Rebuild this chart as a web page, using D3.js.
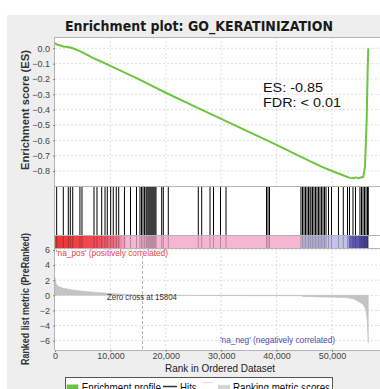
<!DOCTYPE html>
<html><head><meta charset="utf-8">
<script src="https://cdn.jsdelivr.net/npm/d3@7"></script>
<style>body{margin:0;background:#fff}svg{display:block}</style>
</head><body><svg id="c" width="380" height="389"></svg>
<script>
// ---------------- data ----------------
const chartTitle = "Enrichment plot: GO_KERATINIZATION";
const esRanks  = [0, 300, 800, 1500, 2400, 3200, 4500, 7000, 10000, 15000, 20000, 25000, 30000, 35000, 40000, 44500, 48000, 50000, 52000, 53200, 53800, 54300, 54800, 55200, 55650, 55960, 56260, 56440, 56550];
const esValues = [0.035, 0.025, 0.02, 0.012, 0.008, 0.0, -0.018, -0.065, -0.115, -0.20, -0.29, -0.375, -0.46, -0.545, -0.63, -0.71, -0.77, -0.80, -0.828, -0.845, -0.848, -0.842, -0.848, -0.843, -0.84, -0.77, -0.47, -0.14, 0.0];
const hitRanks = [300, 1500, 2400, 2760, 3200, 4500, 4870, 7040, 7580, 8430, 9030, 9440, 10050, 10520, 11060, 11500, 12540, 13630, 14710,
  15340, 15610, 15880, 16150, 16430, 16600, 16790, 16970, 17150, 17330, 17510, 17690, 17870, 18050, 18230, 19260, 19550, 20450,
  25870, 26480, 27980, 28610, 29870, 30870, 38180, 38450, 38720,
  44400, 44680, 44950, 45220, 45490, 45760, 46030, 46210, 46480, 46750, 47020, 47290, 47560, 47830, 48100, 48380, 48650, 48920,
  49370, 49910, 51170, 52040, 52800, 53160, 53790, 54240, 55050, 55330, 55600, 55870, 56140, 56410, 56550];
const metricRanks  = [0, 100, 300, 700, 1500, 3000, 5000, 7000, 9000, 11000, 13000, 15804, 25000, 35000, 44600, 44700, 48000, 52600, 54000, 55000, 55600, 56000, 56200, 56350, 56450, 56550];
const metricValues = [2.4, 1.8, 1.4, 1.15, 0.95, 0.75, 0.55, 0.42, 0.3, 0.2, 0.12, 0.0, -0.02, -0.04, -0.06, -0.15, -0.22, -0.3, -0.5, -0.9, -1.2, -1.7, -2.3, -3.3, -4.8, -6.3];
const bandRanks  = [0, 8000, 11500, 13000, 44400, 44450, 52800, 53300, 56550];
const bandColors = ["#ee3434", "#f04e5a", "#ee7c94", "#f4b6d0", "#f4b6d0", "#c9c7ec", "#c3c1e9", "#6a64ba", "#4a44a4"];
const xTicks = [0, 10000, 20000, 30000, 40000, 50000];
const esTicks = [0, -0.1, -0.2, -0.3, -0.4, -0.5, -0.6, -0.7, -0.8];
const metricTicks = [6, 4, 2, 0, -2, -4, -6];
const zeroCross = 15804;
const nGenes = 56550;
const esText = ["ES: -0.85", "FDR: < 0.01"];
const legendLabels = ["Enrichment profile", "Hits", "", "Ranking metric scores"];

// ---------------- layout ----------------
const svg = d3.select("#c");
const L = 55, R = 385;
const esTop = 37, esBot = 186, hitBot = 235, bandBot = 248, mBot = 350;
const green = "#6cc53f";

const x = d3.scaleLinear().domain([0, 59570]).range([L, R]);
const yES = d3.scaleLinear().domain([-0.898, 0.0737]).range([esBot, esTop]);
const yM = d3.scaleLinear().domain([-7.23, 6.26]).range([mBot, bandBot]);

svg.append("rect").attr("width", 380).attr("height", 389).attr("fill", "#fff");
svg.append("rect").attr("x", 7).attr("y", 15).attr("width", 380).attr("height", 380).attr("fill", "#eeeeee");

// title
svg.append("text").attr("x", 199).attr("y", 30.5).attr("text-anchor", "middle")
  .attr("font-family", "DejaVu Sans, sans-serif").attr("font-weight", "bold").attr("font-size", 14.5)
  .attr("fill", "#1a1a1a").attr("textLength", 268).attr("lengthAdjust", "spacingAndGlyphs").text(chartTitle);

// plot backgrounds
svg.append("rect").attr("x", L).attr("y", esTop).attr("width", R - L).attr("height", bandBot - esTop).attr("fill", "#fff");
svg.append("rect").attr("x", L).attr("y", bandBot).attr("width", R - L).attr("height", mBot - bandBot).attr("fill", "#fff");

const grid = "#d6d6d6";
// ES gridlines
svg.append("g").selectAll("line").data(esTicks).join("line")
  .attr("x1", L).attr("x2", R).attr("y1", d => yES(d)).attr("y2", d => yES(d))
  .attr("stroke", grid).attr("stroke-dasharray", "2,2").attr("stroke-width", 0.8);
svg.append("g").selectAll("line").data(xTicks.slice(1)).join("line")
  .attr("x1", d => x(d)).attr("x2", d => x(d)).attr("y1", esTop).attr("y2", esBot)
  .attr("stroke", grid).attr("stroke-dasharray", "2,2").attr("stroke-width", 0.8);
// metric gridlines
svg.append("g").selectAll("line").data(metricTicks).join("line")
  .attr("x1", L).attr("x2", R).attr("y1", d => yM(d)).attr("y2", d => yM(d))
  .attr("stroke", grid).attr("stroke-dasharray", "2,2").attr("stroke-width", 0.8);
svg.append("g").selectAll("line").data(xTicks.slice(1)).join("line")
  .attr("x1", d => x(d)).attr("x2", d => x(d)).attr("y1", bandBot).attr("y2", mBot)
  .attr("stroke", grid).attr("stroke-dasharray", "2,2").attr("stroke-width", 0.8);

// colour band
const defs = svg.append("defs");
const grad = defs.append("linearGradient").attr("id", "band").attr("gradientUnits", "userSpaceOnUse")
  .attr("x1", x(0)).attr("x2", x(nGenes)).attr("y1", 0).attr("y2", 0);
grad.selectAll("stop").data(bandRanks).join("stop")
  .attr("offset", d => d / nGenes).attr("stop-color", (d, i) => bandColors[i]);
svg.append("rect").attr("x", x(0)).attr("y", hitBot).attr("width", x(nGenes) - x(0)).attr("height", bandBot - hitBot)
  .attr("fill", "url(#band)");

// hits
svg.append("g").selectAll("line").data(hitRanks).join("line")
  .attr("x1", d => x(d)).attr("x2", d => x(d)).attr("y1", esBot + 1).attr("y2", hitBot)
  .attr("stroke", "#000").attr("stroke-width", 1);
svg.append("g").selectAll("line").data(hitRanks).join("line")
  .attr("x1", d => x(d)).attr("x2", d => x(d)).attr("y1", hitBot).attr("y2", bandBot)
  .attr("stroke", "#000").attr("stroke-opacity", 0.25).attr("stroke-width", 1);

// ranked metric area
const mData = metricRanks.map((r, i) => [r, metricValues[i]]);
svg.append("path").datum(mData)
  .attr("d", d3.area().x(d => x(d[0])).y0(yM(0)).y1(d => yM(d[1])))
  .attr("fill", "#c4c4c4").attr("stroke", "#bdbdbd").attr("stroke-width", 0.5);

// zero cross line
svg.append("line").attr("x1", x(zeroCross)).attr("x2", x(zeroCross)).attr("y1", bandBot + 8).attr("y2", mBot)
  .attr("stroke", "#9a9a9a").attr("stroke-dasharray", "3,2").attr("stroke-width", 0.8);

// ES curve
const esData = esRanks.map((r, i) => [r, esValues[i]]);
svg.append("path").datum(esData)
  .attr("d", d3.line().x(d => x(d[0])).y(d => yES(d[1])))
  .attr("fill", "none").attr("stroke", green).attr("stroke-width", 2).attr("stroke-linejoin", "round");

// borders
const border = "#b4b4b4";
[esTop, esBot, hitBot, bandBot, mBot].forEach(yy => {
  svg.append("line").attr("x1", L).attr("x2", R).attr("y1", yy + 0.5).attr("y2", yy + 0.5)
    .attr("stroke", border).attr("stroke-width", 1);
});
svg.append("line").attr("x1", L - 0.5).attr("x2", L - 0.5).attr("y1", esTop).attr("y2", mBot)
  .attr("stroke", border).attr("stroke-width", 1);

// axes
const tickFont = "Liberation Sans, Arial, sans-serif";
const gES = svg.append("g").attr("transform", `translate(${L},0)`)
  .call(d3.axisLeft(yES).tickValues(esTicks).tickFormat(d3.format(".1f")).tickSize(2).tickPadding(3));
const gM = svg.append("g").attr("transform", `translate(${L},0)`)
  .call(d3.axisLeft(yM).tickValues(metricTicks).tickFormat(d3.format("d")).tickSize(2).tickPadding(3));
const gX = svg.append("g").attr("transform", `translate(0,${mBot})`)
  .call(d3.axisBottom(x).tickValues(xTicks).tickFormat(d3.format(",")).tickSize(2).tickPadding(1));
[gES, gM, gX].forEach(g => {
  g.select(".domain").remove();
  g.selectAll(".tick line").attr("stroke", "#888");
  g.selectAll(".tick text").attr("font-family", tickFont).attr("font-size", 9).attr("fill", "#444");
});
gES.selectAll(".tick text").text(d => d === 0 ? "0.0" : d3.format(".1f")(d));

// axis titles
svg.append("text").attr("transform", "translate(29,110) rotate(-90)").attr("text-anchor", "middle")
  .attr("font-family", tickFont).attr("font-weight", "bold").attr("font-size", 11).attr("fill", "#333")
  .attr("textLength", 120).attr("lengthAdjust", "spacingAndGlyphs").text("Enrichment score (ES)");
svg.append("text").attr("transform", "translate(29,299) rotate(-90)").attr("text-anchor", "middle")
  .attr("font-family", tickFont).attr("font-weight", "bold").attr("font-size", 11).attr("fill", "#333")
  .attr("textLength", 132).attr("lengthAdjust", "spacingAndGlyphs").text("Ranked list metric (PreRanked)");
svg.append("text").attr("x", 220).attr("y", 371.5).attr("text-anchor", "middle")
  .attr("font-family", tickFont).attr("font-size", 11.5).attr("fill", "#222")
  .attr("textLength", 110).attr("lengthAdjust", "spacingAndGlyphs").text("Rank in Ordered Dataset");

// annotations
svg.append("text").attr("x", 263).attr("y", 91.5).attr("font-family", tickFont).attr("font-size", 13).attr("fill", "#111")
  .attr("textLength", 60).attr("lengthAdjust", "spacingAndGlyphs").text(esText[0]);
svg.append("text").attr("x", 263).attr("y", 106.5).attr("font-family", tickFont).attr("font-size", 13).attr("fill", "#111")
  .attr("textLength", 78).attr("lengthAdjust", "spacingAndGlyphs").text(esText[1]);

svg.append("text").attr("x", 56).attr("y", 255.5).attr("font-family", tickFont).attr("font-size", 9).attr("fill", "#e8424c")
  .attr("textLength", 112).attr("lengthAdjust", "spacingAndGlyphs").text("'na_pos' (positively correlated)");
svg.append("text").attr("x", 220).attr("y", 342.7).attr("font-family", tickFont).attr("font-size", 9).attr("fill", "#4f4bb0")
  .attr("textLength", 115).attr("lengthAdjust", "spacingAndGlyphs").text("'na_neg' (negatively correlated)");
svg.append("text").attr("x", 107).attr("y", 300).attr("font-family", tickFont).attr("font-size", 8.5).attr("fill", "#333")
  .attr("textLength", 70).attr("lengthAdjust", "spacingAndGlyphs").text("Zero cross at " + zeroCross);

// legend
const lg = svg.append("g");
lg.append("rect").attr("x", 65.5).attr("y", 377.5).attr("width", 267).attr("height", 30)
  .attr("fill", "#fff").attr("stroke", "#555").attr("stroke-width", 1);
lg.append("rect").attr("x", 66.7).attr("y", 384.5).attr("width", 11.6).attr("height", 6).attr("fill", green);
lg.append("line").attr("x1", 163).attr("x2", 177).attr("y1", 386.5).attr("y2", 386.5).attr("stroke", "#333").attr("stroke-width", 1.5);
lg.append("line").attr("x1", 202).attr("x2", 213).attr("y1", 382.5).attr("y2", 382.5).attr("stroke", "#e4e4e4").attr("stroke-width", 1.5);
lg.append("rect").attr("x", 218).attr("y", 385).attr("width", 12).attr("height", 5).attr("fill", "#d4d4d4");
const lgText = [[81.7, 79.3], [180, 16.7], null, [233, 97]];
legendLabels.forEach((t, i) => {
  if (!lgText[i]) return;
  lg.append("text").attr("x", lgText[i][0]).attr("y", 392).attr("font-family", tickFont).attr("font-size", 12)
    .attr("fill", "#111").attr("textLength", lgText[i][1]).attr("lengthAdjust", "spacingAndGlyphs").text(t);
});
</script></body></html>
